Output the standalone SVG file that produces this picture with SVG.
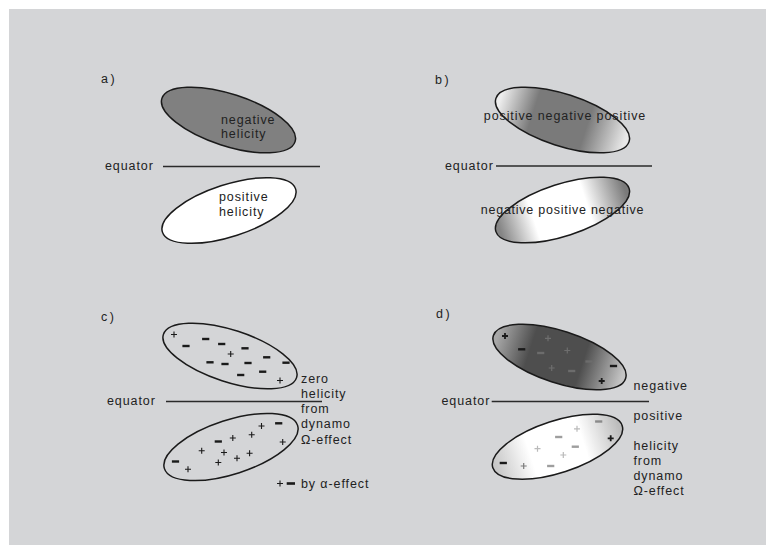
<svg xmlns="http://www.w3.org/2000/svg" xmlns:xlink="http://www.w3.org/1999/xlink" width="775" height="554" viewBox="0 0 775 554">
<style>
.t{font-family:"Liberation Sans",Arial,sans-serif;font-size:12.5px;letter-spacing:0.9px;fill:#222}
.eq{stroke:#2a2a2a;stroke-width:1.3}
.blob{stroke:#1a1a1a;stroke-width:1.5}
</style>
<defs>
<path id="p" d="M-3,0H3M0,-3V3" fill="none"/>
<rect id="m" x="-3.6" y="-1.2" width="7.2" height="2.4"/>
<linearGradient id="gbTop" gradientUnits="userSpaceOnUse" x1="497" y1="0" x2="628" y2="0">
<stop offset="0" stop-color="#ededed"/><stop offset="0.27" stop-color="#7a7a7a"/><stop offset="0.69" stop-color="#7a7a7a"/><stop offset="1" stop-color="#e8e8e8"/>
</linearGradient>
<linearGradient id="gbBot" gradientUnits="userSpaceOnUse" x1="497" y1="0" x2="628" y2="0">
<stop offset="0" stop-color="#858585"/><stop offset="0.27" stop-color="#ffffff"/><stop offset="0.69" stop-color="#ffffff"/><stop offset="1" stop-color="#7a7a7a"/>
</linearGradient>
<linearGradient id="gdTop" gradientUnits="userSpaceOnUse" x1="494" y1="0" x2="625" y2="0">
<stop offset="0" stop-color="#a8a8a8"/><stop offset="0.27" stop-color="#4e4e4e"/><stop offset="0.68" stop-color="#4e4e4e"/><stop offset="1" stop-color="#c4c4c4"/>
</linearGradient>
<linearGradient id="gdBot" gradientUnits="userSpaceOnUse" x1="493" y1="0" x2="622" y2="0">
<stop offset="0" stop-color="#c8c8c8"/><stop offset="0.28" stop-color="#ffffff"/><stop offset="0.7" stop-color="#ffffff"/><stop offset="1" stop-color="#bcbcbc"/>
</linearGradient>
</defs>
<rect width="775" height="554" fill="#ffffff"/>
<rect x="9" y="9" width="757" height="536" fill="#d4d5d7"/>

<g id="panel-a">
<text class="t" x="101" y="83" style="letter-spacing:2.5px">a)</text>
<g id="a-top"><ellipse class="blob" cx="228.5" cy="120" rx="70" ry="26" transform="rotate(18 228.5 120)" fill="#808080"/>
<text class="t" x="221" y="123.5">negative</text><text class="t" x="221" y="137.5">helicity</text></g>
<g id="a-bot"><ellipse class="blob" cx="229" cy="210.5" rx="70" ry="26" transform="rotate(-18 229 210.5)" fill="#ffffff"/>
<text class="t" x="219" y="201">positive</text><text class="t" x="219" y="215.5">helicity</text></g>
<g id="a-eq"><text class="t" x="105" y="170">equator</text></g>
</g>

<g id="panel-b">
<text class="t" x="435" y="84" style="letter-spacing:2.5px">b)</text>
<g id="b-top"><ellipse class="blob" cx="562.5" cy="120" rx="70" ry="26" transform="rotate(18 562.5 120)" fill="url(#gbTop)"/>
<text class="t" x="565" y="119.5" text-anchor="middle">positive negative positive</text></g>
<g id="b-bot"><ellipse class="blob" cx="562.5" cy="210" rx="70" ry="26" transform="rotate(-18 562.5 210)" fill="url(#gbBot)"/>
<text class="t" x="562.5" y="214" text-anchor="middle" style="letter-spacing:0.75px">negative positive negative</text></g>
<g id="b-eq"><text class="t" x="445" y="170">equator</text></g>
</g>

<g id="panel-c">
<text class="t" x="101" y="320.5" style="letter-spacing:2.5px">c)</text>
<g id="c-top"><ellipse class="blob" cx="230" cy="356" rx="70" ry="26" transform="rotate(18 230 356)" fill="none"/>
<g fill="#1a1a1a">
<use xlink:href="#m" x="186" y="346"/><use xlink:href="#m" x="205.7" y="339"/><use xlink:href="#m" x="221.7" y="344"/><use xlink:href="#m" x="245" y="348.3"/>
<use xlink:href="#m" x="210" y="362.3"/><use xlink:href="#m" x="225" y="364"/><use xlink:href="#m" x="248" y="363"/><use xlink:href="#m" x="266.7" y="357.3"/>
<use xlink:href="#m" x="286" y="362.7"/><use xlink:href="#m" x="240.7" y="375"/><use xlink:href="#m" x="262.7" y="371.7"/>
</g>
<g stroke="#1a1a1a" stroke-width="1.1">
<use xlink:href="#p" x="174" y="334.5"/><use xlink:href="#p" x="230.7" y="354"/><use xlink:href="#p" x="280" y="380.5"/>
</g></g>
<g id="c-bot"><ellipse class="blob" cx="231" cy="447" rx="70" ry="27" transform="rotate(-18 231 447)" fill="none"/>
<g fill="#1a1a1a">
<use xlink:href="#m" x="278.7" y="423.3"/><use xlink:href="#m" x="218.3" y="441.5"/><use xlink:href="#m" x="175.5" y="461.5"/>
</g>
<g stroke="#1a1a1a" stroke-width="1.1">
<use xlink:href="#p" x="261.5" y="426"/><use xlink:href="#p" x="251.7" y="434.7"/><use xlink:href="#p" x="232.8" y="438"/><use xlink:href="#p" x="282.7" y="442"/>
<use xlink:href="#p" x="201.7" y="450.7"/><use xlink:href="#p" x="224" y="452.5"/><use xlink:href="#p" x="249.6" y="453.3"/><use xlink:href="#p" x="237" y="458.3"/>
<use xlink:href="#p" x="218.3" y="462.5"/><use xlink:href="#p" x="188" y="469.2"/>
</g></g>
<g id="c-eq"><text class="t" x="107" y="405">equator</text></g>
<g id="c-note"><text class="t" x="301" y="383">zero</text><text class="t" x="301" y="398">helicity</text><text class="t" x="301" y="412.5">from</text><text class="t" x="301" y="428">dynamo</text><text class="t" x="301" y="443.5">Ω-effect</text></g>
<g id="c-legend"><use xlink:href="#p" x="280" y="483.5" stroke="#1a1a1a" stroke-width="1.1"/><rect x="286.7" y="482.2" width="8.3" height="2.6" fill="#1a1a1a"/>
<text class="t" x="301" y="487.5">by α-effect</text></g>
</g>

<g id="panel-d">
<text class="t" x="436" y="317.5" style="letter-spacing:2.5px">d)</text>
<g id="d-top"><ellipse class="blob" cx="559.5" cy="357" rx="69.5" ry="26" transform="rotate(18 559.5 357)" fill="url(#gdTop)"/>
<g fill="#1a1a1a"><use xlink:href="#m" x="521.7" y="349.3"/><use xlink:href="#m" x="613.5" y="366"/></g>
<g fill="#6c6c6c"><use xlink:href="#m" x="540.7" y="353"/><use xlink:href="#m" x="571.7" y="371"/><use xlink:href="#m" x="589" y="361.5"/></g>
<g stroke="#1a1a1a" stroke-width="1.8"><use xlink:href="#p" x="505" y="336"/><use xlink:href="#p" x="601.7" y="381"/></g>
<g stroke="#6e6e6e" stroke-width="1.2"><use xlink:href="#p" x="548" y="338.3"/><use xlink:href="#p" x="567.3" y="350.5"/><use xlink:href="#p" x="551.7" y="368"/></g>
</g>
<g id="d-bot"><ellipse class="blob" cx="557.5" cy="446.7" rx="68" ry="26" transform="rotate(-18 557.5 446.7)" fill="url(#gdBot)"/>
<g fill="#1a1a1a"><use xlink:href="#m" x="503.3" y="463"/></g>
<g fill="#8a8a8a"><use xlink:href="#m" x="598.7" y="421.5"/></g>
<g fill="#9e9e9e"><use xlink:href="#m" x="558.7" y="437"/><use xlink:href="#m" x="575.3" y="446.7"/><use xlink:href="#m" x="550.7" y="466"/></g>
<g stroke="#1a1a1a" stroke-width="1.8"><use xlink:href="#p" x="610.7" y="438.3"/></g>
<g stroke="#bababa" stroke-width="1.2"><use xlink:href="#p" x="577" y="428.8"/><use xlink:href="#p" x="537.5" y="448.7"/><use xlink:href="#p" x="563.3" y="455"/></g>
<g stroke="#7a7a7a" stroke-width="1.2"><use xlink:href="#p" x="523.7" y="466"/></g>
</g>
<g id="d-eq"><text class="t" x="441.5" y="405">equator</text></g>
<g id="d-note"><text class="t" x="633.5" y="390">negative</text><text class="t" x="633.5" y="420">positive</text><text class="t" x="633.5" y="450">helicity</text><text class="t" x="633.5" y="464.5">from</text><text class="t" x="633.5" y="479.5">dynamo</text><text class="t" x="633.5" y="495">Ω-effect</text></g>
</g>

<g id="connectors">
<line class="eq" x1="163" y1="166.5" x2="320" y2="166.5"/>
<line class="eq" x1="496" y1="166" x2="652" y2="166"/>
<line class="eq" x1="166" y1="401.5" x2="322" y2="401.5"/>
<line class="eq" x1="491.7" y1="401.5" x2="649" y2="401.5"/>
</g>
</svg>
